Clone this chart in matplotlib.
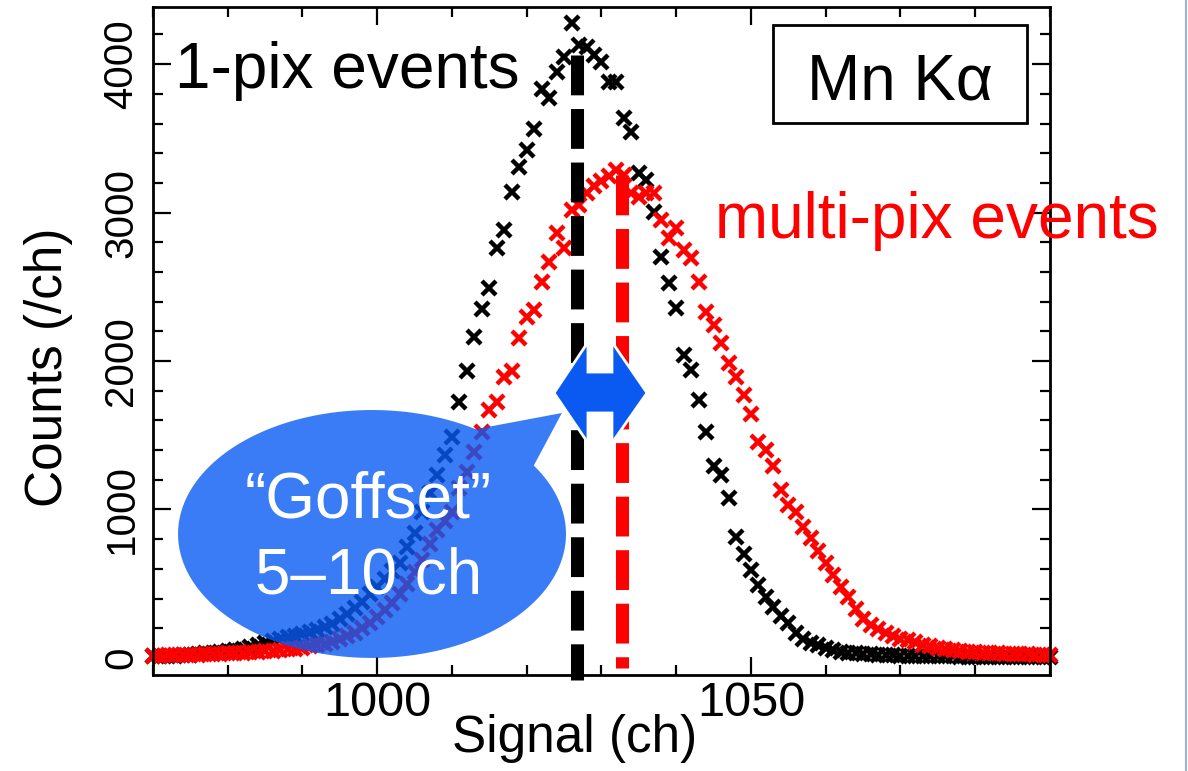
import numpy as np
import matplotlib
matplotlib.use("Agg")
import matplotlib.pyplot as plt
from matplotlib.patches import Polygon, Rectangle
from matplotlib.lines import Line2D
from matplotlib.ticker import MultipleLocator, FixedLocator

plt.rcParams['font.family'] = ['Liberation Sans', 'DejaVu Sans']

# spectrum, one value per channel (970 ... 1090)
channels = np.arange(970, 1091)
single_pix = [
    10, 12, 14, 16, 18, 22, 25, 30, 35, 40,
    47, 55, 63, 72, 85, 100, 112, 125, 138, 150,
    162, 175, 190, 205, 230, 260, 295, 335, 380, 430,
    480, 530, 585, 640, 745, 840, 980, 1110, 1235, 1370,
    1490, 1725, 1930, 2165, 2350, 2495, 2760, 2885, 3140, 3310,
    3425, 3560, 3830, 3775, 3950, 4050, 4280, 4130, 4115, 4060,
    4015, 3880, 3880, 3640, 3540, 3270, 3220, 3005, 2700, 2525,
    2360, 2040, 1940, 1740, 1520, 1290, 1235, 1080, 815, 700,
    590, 490, 410, 340, 280, 235, 170, 125, 100, 87,
    67, 52, 42, 36, 32, 28, 25, 22, 20, 18,
    16, 15, 14, 13, 12, 11, 10, 10, 9, 9,
    8, 8, 7, 7, 7, 6, 6, 6, 5, 5, 5,
]
multi_pix = [
    15, 16, 17, 18, 19, 20, 22, 24, 26, 28,
    30, 32, 34, 37, 40, 44, 48, 52, 57, 63,
    70, 78, 87, 97, 110, 125, 145, 170, 200, 235,
    275, 320, 370, 430, 500, 580, 660, 770, 860, 920,
    985, 1145, 1255, 1390, 1520, 1670, 1725, 1890, 1930, 2155,
    2300, 2345, 2530, 2670, 2865, 2760, 3020, 3050, 3130, 3180,
    3215, 3245, 3290, 3255, 3135, 3105, 3135, 3130, 2950, 2830,
    2895, 2750, 2695, 2535, 2330, 2245, 2120, 1990, 1895, 1770,
    1640, 1455, 1400, 1290, 1130, 1030, 985, 880, 810, 720,
    640, 560, 480, 410, 330, 260, 222, 195, 170, 150,
    130, 118, 105, 90, 78, 67, 58, 52, 46, 42,
    38, 35, 32, 30, 28, 26, 25, 24, 22, 21, 20,
]

# peak positions and extent of the dashed markers
single_center = 1026.7
multi_center = 1032.7
single_top, single_bottom = 4062, -149
multi_top, multi_bottom = 3253, -68

xticks = [1000, 1050]
yticks = [0, 1000, 2000, 3000, 4000]

W, H = 1188, 771
fig = plt.figure(figsize=(W / 100, H / 100), dpi=100)
ax = fig.add_axes([153 / W, (H - 675) / H, 897 / W, 668 / H])

ax.plot(channels, single_pix, ls='none', marker='x', ms=10.5, mew=3.2,
        color='black', clip_on=False, zorder=2)
ax.plot(channels, multi_pix, ls='none', marker='x', ms=10.5, mew=3.2,
        color='#ff0000', clip_on=False, zorder=2)

# dashed peak lines
ax.plot([single_center, single_center], [single_top, single_bottom],
        color='black', lw=9.4, dashes=(3.05, 1.05), clip_on=False, zorder=3)
ax.plot([multi_center, multi_center], [multi_top, multi_bottom],
        color='#ff0000', lw=9.4, dashes=(3.05, 1.05), clip_on=False, zorder=3)

ax.set_xlim(970, 1090)
ax.set_ylim(-115, 4385)
ax.xaxis.set_major_locator(FixedLocator(xticks))
ax.xaxis.set_minor_locator(MultipleLocator(10))
ax.yaxis.set_major_locator(FixedLocator(yticks))
ax.yaxis.set_minor_locator(MultipleLocator(200))

ax.tick_params(which='both', direction='in', top=True, right=True,
               width=1.6, color='black')
ax.tick_params(which='major', length=13)
ax.tick_params(which='minor', length=7)
ax.tick_params(axis='x', labelsize=35, pad=4)
ax.tick_params(axis='y', labelsize=29, pad=9)
for lab in ax.get_yticklabels():
    lab.set_rotation(90)
    lab.set_va('center')
for sp in ax.spines.values():
    sp.set_linewidth(2)

ax.set_xlabel('Signal (ch)', fontsize=37)
ax.xaxis.set_label_coords(0.470, -0.058)
ax.set_ylabel('Counts (/ch)', fontsize=37)
ax.yaxis.set_label_coords(-0.089, 0.461)

# labels
ax.text(972.9, 3839, '1-pix events', fontsize=46, color='black',
        ha='left', va='baseline', zorder=5)
ax.text(1045.2, 2829, 'multi-pix events', fontsize=46, color='#ff0000',
        ha='left', va='baseline', zorder=5)

ax.add_patch(Rectangle((0.691, 0.826), 0.283, 0.147, transform=ax.transAxes,
                       fc='white', ec='black', lw=2, zorder=5))
ax.text(0.833, 0.861, 'Mn Kα', transform=ax.transAxes, fontsize=46,
        ha='center', va='baseline', zorder=6)

# speech bubble
cx, cy, a, b = 999.3, 835, 25.95, 835
t1, t2 = np.radians(57.7), np.radians(33.5)
theta = np.linspace(t1, t2 + 2 * np.pi, 300)
pts = np.column_stack([cx + a * np.cos(theta), cy + b * np.sin(theta)])
pts = np.vstack([pts, [1024.7, 1650]])
ax.add_patch(Polygon(pts, closed=True, fc='#095bf4', ec='none', alpha=0.8,
                     clip_on=False, zorder=4))
ax.text(998.8, 943, '\u201cGoffset\u201d', fontsize=46, color='white',
        ha='center', va='baseline', zorder=5)
ax.text(998.8, 437, '5\u201310 ch', fontsize=46, color='white',
        ha='center', va='baseline', zorder=5)

# double arrow between the peaks
xl, xh1, xh2, xr = 1023.65, 1028.19, 1031.40, 1036.09
ym, yh_top, yh_bot, ys_top, ys_bot = 1785, 2128, 1448, 1926, 1650
arrow = [(xl, ym), (xh1, yh_top), (xh1, ys_top), (xh2, ys_top), (xh2, yh_top),
         (xr, ym), (xh2, yh_bot), (xh2, ys_bot), (xh1, ys_bot), (xh1, yh_bot)]
ax.add_patch(Polygon(arrow, closed=True, fc='#0a5af2', ec='white', lw=2,
                     clip_on=False, zorder=6))

# slide edge
fig.add_artist(Line2D([1186 / W, 1186 / W], [0, 1], transform=fig.transFigure,
                      color='#9db4d8', lw=1.5))

fig.savefig('out.png', dpi=100)
